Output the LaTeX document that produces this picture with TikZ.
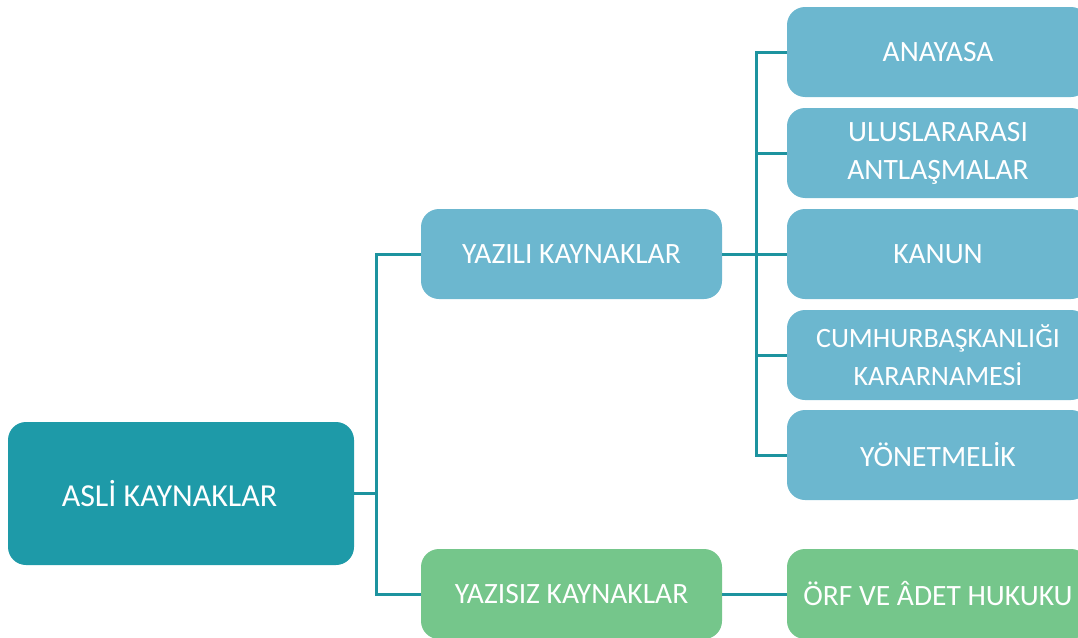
\documentclass[tikz,border=0pt]{standalone}
\usepackage{fontspec}
\setmainfont{Carlito}
\definecolor{teal1}{HTML}{1E9AA8}
\definecolor{blue1}{HTML}{6CB7CF}
\definecolor{green1}{HTML}{75C68B}
\definecolor{line1}{HTML}{1D939F}
\begin{document}
\begin{tikzpicture}[x=1pt,y=-1pt,
  box/.style={rounded corners=18pt, inner sep=0pt, text=white, align=center,
     font=\fontsize{29.5}{38}\selectfont},
  conn/.style={draw=line1, line width=3pt}]
\useasboundingbox (0,0) rectangle (1078,637);
\begin{scope}
\clip (0,0) rectangle (1078,637);
\node[box, fill=teal1, minimum width=346pt, minimum height=143pt, font=\fontsize{32}{38}\selectfont] (asli) at (181,493.5) {\raisebox{-2pt}{ASLİ KAYNAKLAR}\hspace*{23pt}};
\node[box, fill=blue1, minimum width=301pt, minimum height=90pt] (yazili) at (571.5,254) {\raisebox{-2pt}{YAZILI KAYNAKLAR}};
\node[box, fill=green1, minimum width=301pt, minimum height=90pt] (yazisiz) at (571.5,594) {\raisebox{-2pt}{YAZISIZ KAYNAKLAR}};
\node[box, fill=blue1, minimum width=302pt, minimum height=90pt] (anayasa) at (938,52) {\raisebox{-2pt}{ANAYASA}};
\node[box, fill=blue1, minimum width=302pt, minimum height=90pt] (ulus) at (938,153) {ULUSLARARASI\\ANTLAŞMALAR};
\node[box, fill=blue1, minimum width=302pt, minimum height=90pt] (kanun) at (938,254) {\raisebox{-2pt}{KANUN}};
\node[box, fill=blue1, minimum width=302pt, minimum height=90pt, font=\fontsize{28}{38}\selectfont] (cb) at (938,355) {CUMHURBAŞKANLIĞI\\KARARNAMESİ};
\node[box, fill=blue1, minimum width=302pt, minimum height=90pt] (yonet) at (938,455) {\raisebox{-2pt}{YÖNETMELİK}};
\node[box, fill=green1, minimum width=302pt, minimum height=90pt] (orf) at (938,594) {\raisebox{-2pt}{ÖRF VE ÂDET HUKUKU}};
\end{scope}
\coordinate (j1) at (376,493.5);
\coordinate (j2) at (756,254);
\draw[conn] (asli.east) -- (j1);
\draw[conn] (yazili.west) -| (j1) |- (yazisiz.west);
\draw[conn] (yazili.east) -- (j2);
\draw[conn] (anayasa.west) -| (j2) |- (yonet.west);
\draw[conn] (j2) |- (ulus.west);
\draw[conn] (j2) |- (kanun.west);
\draw[conn] (j2) |- (cb.west);
\draw[conn] (yazisiz.east) -- (orf.west);
\end{tikzpicture}
\end{document}
